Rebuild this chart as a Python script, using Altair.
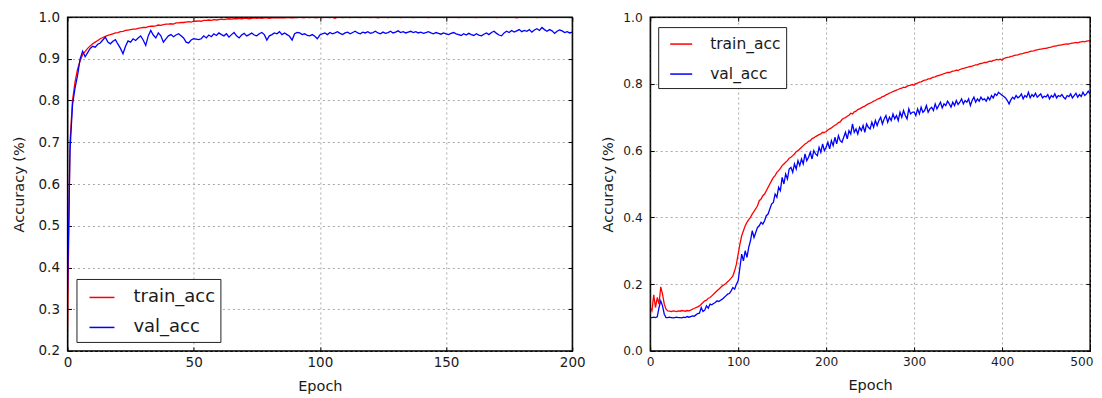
import altair as alt
import pandas as pd

# ---------------- data ----------------
LEFT_EPOCHS = list(range(0, 201))
LEFT_TRAIN = [
    0.250, 0.700, 0.800, 0.845, 0.875, 0.895, 0.910, 0.918, 0.925, 0.931,
    0.936, 0.940, 0.944, 0.948, 0.951, 0.954, 0.956, 0.958, 0.960, 0.962,
    0.963, 0.965, 0.966, 0.968, 0.969, 0.970, 0.971, 0.971, 0.973, 0.974,
    0.975, 0.975, 0.977, 0.978, 0.978, 0.979, 0.981, 0.980, 0.982, 0.983,
    0.983, 0.984, 0.983, 0.986, 0.986, 0.987, 0.987, 0.988, 0.989, 0.988,
    0.990, 0.990, 0.991, 0.990, 0.992, 0.992, 0.993, 0.992, 0.994, 0.993,
    0.994, 0.995, 0.994, 0.995, 0.996, 0.995, 0.996, 0.996, 0.997, 0.996,
    0.997, 0.997, 0.996, 0.997, 0.998, 0.997, 0.998, 0.997, 0.998, 0.998,
    0.997, 0.998, 0.999, 0.998, 0.998, 0.999, 0.998, 0.999, 0.999, 0.998,
    0.999, 0.999, 1.000, 0.999, 0.999, 1.000, 0.999, 1.000, 0.999, 0.999,
    1.000, 0.999, 1.000, 1.000, 0.999, 1.000, 0.997, 1.000, 1.000, 0.999,
    1.000, 1.000, 0.999, 1.000, 1.000, 1.000, 0.999, 1.000, 1.000, 1.000,
    0.999, 1.000, 1.000, 0.998, 1.000, 1.000, 1.000, 0.999, 1.000, 1.000,
    1.000, 1.000, 0.999, 1.000, 1.000, 1.000, 1.000, 0.999, 1.000, 1.000,
    1.000, 1.000, 1.000, 0.999, 1.000, 1.000, 1.000, 1.000, 1.000, 0.999,
    1.000, 1.000, 1.000, 1.000, 1.000, 0.999, 1.000, 1.000, 1.000, 1.000,
    1.000, 1.000, 0.999, 1.000, 1.000, 1.000, 1.000, 1.000, 1.000, 1.000,
    0.999, 1.000, 1.000, 1.000, 1.000, 1.000, 1.000, 1.000, 0.998, 1.000,
    1.000, 1.000, 1.000, 1.000, 1.000, 1.000, 0.999, 1.000, 1.000, 1.000,
    1.000, 1.000, 1.000, 1.000, 1.000, 1.000, 1.000, 1.000, 1.000, 1.000,
    1.000,
]
LEFT_VAL = [
    0.340, 0.680, 0.790, 0.830, 0.860, 0.900, 0.918, 0.905, 0.915, 0.925,
    0.930, 0.928, 0.935, 0.938, 0.945, 0.952, 0.940, 0.936, 0.942, 0.946,
    0.935, 0.925, 0.912, 0.930, 0.943, 0.940, 0.948, 0.944, 0.950, 0.955,
    0.945, 0.932, 0.955, 0.968, 0.957, 0.950, 0.962, 0.955, 0.940, 0.948,
    0.955, 0.958, 0.953, 0.957, 0.960, 0.955, 0.950, 0.940, 0.938, 0.945,
    0.948, 0.947, 0.946, 0.948, 0.955, 0.950, 0.957, 0.953, 0.960, 0.956,
    0.962, 0.958, 0.955, 0.960, 0.952, 0.958, 0.963, 0.955, 0.950, 0.957,
    0.961, 0.955, 0.958, 0.962, 0.957, 0.955, 0.960, 0.963, 0.958, 0.945,
    0.955, 0.958, 0.962, 0.960, 0.965, 0.958, 0.962, 0.958, 0.954, 0.945,
    0.960, 0.963, 0.962, 0.958, 0.960, 0.956, 0.955, 0.958, 0.954, 0.948,
    0.957, 0.960, 0.962, 0.958, 0.963, 0.960, 0.962, 0.965, 0.961, 0.958,
    0.962, 0.964, 0.960, 0.963, 0.966, 0.962, 0.960, 0.964, 0.962, 0.965,
    0.961, 0.963, 0.966, 0.962, 0.960, 0.964, 0.961, 0.963, 0.966, 0.962,
    0.964, 0.967, 0.963, 0.965, 0.962, 0.964, 0.966, 0.963, 0.965, 0.962,
    0.964, 0.961, 0.963, 0.965, 0.962, 0.960, 0.963, 0.961, 0.959, 0.962,
    0.960, 0.958, 0.961, 0.963, 0.960, 0.958, 0.956, 0.960, 0.957, 0.961,
    0.958, 0.956, 0.960, 0.957, 0.955, 0.959, 0.962, 0.958, 0.963, 0.966,
    0.961, 0.957, 0.955, 0.962, 0.966, 0.963, 0.968, 0.964, 0.967, 0.970,
    0.965, 0.968, 0.966, 0.970, 0.964, 0.969, 0.972, 0.968, 0.975, 0.970,
    0.966, 0.970, 0.967, 0.961, 0.966, 0.969, 0.967, 0.963, 0.965, 0.962,
    0.964,
]

RIGHT_EPOCHS = list(range(0, 501, 2))
RIGHT_TRAIN = [
    0.130, 0.120, 0.168, 0.130, 0.160, 0.140, 0.192, 0.170, 0.140, 0.125,
    0.120, 0.119, 0.118, 0.120, 0.119, 0.118, 0.120, 0.119, 0.121, 0.120,
    0.119, 0.121, 0.120, 0.122, 0.125, 0.127, 0.130, 0.132, 0.135, 0.140,
    0.145, 0.150, 0.152, 0.158, 0.160, 0.165, 0.170, 0.175, 0.180, 0.185,
    0.190, 0.195, 0.198, 0.202, 0.207, 0.212, 0.218, 0.225, 0.240, 0.260,
    0.290, 0.320, 0.345, 0.360, 0.375, 0.385, 0.393, 0.400, 0.410, 0.418,
    0.426, 0.435, 0.450, 0.455, 0.465, 0.470, 0.480, 0.490, 0.500, 0.510,
    0.520, 0.525, 0.535, 0.540, 0.547, 0.555, 0.560, 0.565, 0.570, 0.577,
    0.580, 0.585, 0.590, 0.597, 0.600, 0.605, 0.610, 0.615, 0.620, 0.623,
    0.628, 0.630, 0.636, 0.638, 0.642, 0.645, 0.648, 0.650, 0.655, 0.654,
    0.657, 0.662, 0.665, 0.668, 0.672, 0.676, 0.679, 0.684, 0.686, 0.693,
    0.697, 0.699, 0.703, 0.706, 0.712, 0.710, 0.716, 0.718, 0.723, 0.725,
    0.728, 0.731, 0.733, 0.737, 0.740, 0.742, 0.745, 0.748, 0.750, 0.754,
    0.756, 0.758, 0.762, 0.763, 0.767, 0.769, 0.772, 0.774, 0.777, 0.779,
    0.781, 0.783, 0.786, 0.787, 0.790, 0.789, 0.793, 0.795, 0.796, 0.798,
    0.796, 0.801, 0.802, 0.805, 0.806, 0.809, 0.811, 0.812, 0.815, 0.815,
    0.818, 0.820, 0.821, 0.824, 0.825, 0.827, 0.828, 0.831, 0.832, 0.834,
    0.834, 0.836, 0.838, 0.839, 0.841, 0.840, 0.843, 0.845, 0.846, 0.848,
    0.849, 0.851, 0.852, 0.853, 0.855, 0.857, 0.857, 0.860, 0.861, 0.862,
    0.864, 0.864, 0.866, 0.868, 0.867, 0.870, 0.871, 0.873, 0.872, 0.874,
    0.871, 0.876, 0.878, 0.879, 0.880, 0.882, 0.883, 0.885, 0.886, 0.887,
    0.889, 0.890, 0.891, 0.893, 0.894, 0.895, 0.897, 0.898, 0.899, 0.901,
    0.902, 0.903, 0.904, 0.905, 0.906, 0.906, 0.908, 0.909, 0.910, 0.912,
    0.913, 0.914, 0.915, 0.916, 0.917, 0.918, 0.919, 0.920, 0.919, 0.921,
    0.922, 0.923, 0.924, 0.923, 0.925, 0.926, 0.927, 0.926, 0.928, 0.929,
    0.929,
]
RIGHT_VAL = [
    0.100, 0.100, 0.101, 0.100, 0.102, 0.130, 0.150, 0.135, 0.110, 0.100,
    0.100, 0.101, 0.100, 0.099, 0.100, 0.101, 0.100, 0.100, 0.099, 0.101,
    0.100, 0.103, 0.101, 0.103, 0.105, 0.104, 0.108, 0.112, 0.113, 0.130,
    0.118, 0.122, 0.135, 0.128, 0.140, 0.138, 0.142, 0.145, 0.150, 0.148,
    0.152, 0.155, 0.160, 0.165, 0.170, 0.172, 0.180, 0.190, 0.185, 0.200,
    0.210, 0.250, 0.290, 0.270, 0.300, 0.280, 0.310, 0.330, 0.360, 0.340,
    0.355, 0.370, 0.375, 0.385, 0.380, 0.390, 0.405, 0.410, 0.425, 0.440,
    0.445, 0.470, 0.460, 0.490, 0.480, 0.520, 0.500, 0.530, 0.515, 0.545,
    0.550, 0.535, 0.560, 0.545, 0.570, 0.555, 0.575, 0.560, 0.590, 0.570,
    0.580, 0.595, 0.575, 0.600, 0.590, 0.585, 0.610, 0.595, 0.620, 0.600,
    0.610, 0.625, 0.605, 0.630, 0.615, 0.640, 0.620, 0.645, 0.630, 0.625,
    0.640, 0.655, 0.635, 0.660, 0.650, 0.680, 0.655, 0.665, 0.650, 0.670,
    0.660, 0.675, 0.655, 0.680, 0.670, 0.665, 0.685, 0.670, 0.690, 0.675,
    0.690, 0.700, 0.680, 0.695, 0.705, 0.685, 0.700, 0.690, 0.710, 0.695,
    0.705, 0.690, 0.715, 0.700, 0.720, 0.705, 0.695, 0.725, 0.710, 0.715,
    0.716, 0.705, 0.725, 0.710, 0.730, 0.715, 0.720, 0.735, 0.715, 0.725,
    0.730, 0.720, 0.740, 0.725, 0.735, 0.745, 0.728, 0.740, 0.735, 0.748,
    0.740, 0.730, 0.745, 0.735, 0.750, 0.738, 0.745, 0.755, 0.740, 0.750,
    0.745, 0.755, 0.735, 0.750, 0.760, 0.745, 0.755, 0.748, 0.760, 0.752,
    0.755, 0.748, 0.760, 0.752, 0.765, 0.758, 0.770, 0.765, 0.775, 0.770,
    0.766, 0.762, 0.758, 0.750, 0.740, 0.752, 0.760, 0.755, 0.765, 0.758,
    0.762, 0.770, 0.755, 0.765, 0.760, 0.775, 0.758, 0.768, 0.762, 0.772,
    0.760, 0.765, 0.770, 0.758, 0.763, 0.761, 0.768, 0.755, 0.765, 0.760,
    0.770, 0.758, 0.765, 0.762, 0.768, 0.760, 0.755, 0.765, 0.762, 0.770,
    0.758, 0.765, 0.772, 0.760, 0.768, 0.762, 0.775, 0.765, 0.770, 0.778,
    0.770,
]

SERIES = ["train_acc", "val_acc"]
COLORS = ["#ff0000", "#0000ff"]

LEFT_XTICKS = [0, 50, 100, 150, 200]
LEFT_YTICKS = [0.2, 0.3, 0.4, 0.5, 0.6, 0.7, 0.8, 0.9, 1.0]
RIGHT_XTICKS = [0, 100, 200, 300, 400, 500]
RIGHT_YTICKS = [0.0, 0.2, 0.4, 0.6, 0.8, 1.0]

FONT = "DejaVu Sans"
TXT = "#1a1a1a"


def long_df(epochs, train, val):
    return pd.DataFrame({
        "Epoch": list(epochs) + list(epochs),
        "acc": list(train) + list(val),
        "series": [SERIES[0]] * len(train) + [SERIES[1]] * len(val),
    })


def panel(df, xdom, xticks, ydom, yticks, w, h, tick_fs, title_fs, ytpad, last_right, leg):
    xs = alt.Scale(domain=xdom, nice=False, zero=False)
    ys = alt.Scale(domain=ydom, nice=False, zero=False)
    common_axis = dict(
        tickSize=4, offset=-4, tickColor="black", tickWidth=1,
        domain=False, labelFont=FONT, labelFontSize=tick_fs, labelFlush=False,
        labelColor=TXT, titleFont=FONT, titleFontSize=title_fs, titleColor=TXT,
        titleFontWeight="normal",
        grid=True, gridColor="#a8a8a8", gridDash=[2, 3], gridWidth=1,
    )
    x_extra = {}
    if last_right:
        test = f"datum.value == {xdom[1]}"
        x_extra = dict(
            labelAlign={"condition": {"test": test, "value": "right"}, "value": "center"},
            labelOffset={"condition": {"test": test, "value": 3}, "value": 0},
        )
    lines = alt.Chart(df).mark_line(strokeWidth=1.3, clip=True).encode(
        x=alt.X("Epoch:Q", scale=xs,
                axis=alt.Axis(values=xticks, format="d", title="Epoch",
                              labelPadding=5, titlePadding=10,
                              **x_extra, **common_axis)),
        y=alt.Y("acc:Q", scale=ys,
                axis=alt.Axis(values=yticks, format=".1f", title="Accuracy (%)",
                              labelPadding=8, titlePadding=ytpad,
                              **common_axis)),
        color=alt.Color(
            "series:N",
            scale=alt.Scale(domain=SERIES, range=COLORS),
            legend=alt.Legend(
                title=None, orient="none", legendX=leg["x"], legendY=leg["y"],
                symbolType="stroke", symbolSize=leg["sym"] ** 2,
                symbolStrokeWidth=1.5, symbolOffset=leg["symoff"],
                labelFont=FONT, labelFontSize=leg["fs"], labelColor=TXT,
                labelOffset=leg["laboff"], rowPadding=leg["rowpad"],
                padding=leg["pad"], strokeColor="#222222", fillColor="white",
                cornerRadius=0,
            ),
        ),
        order=alt.Order("Epoch:Q"),
    )
    tick_axes = alt.Chart(df).mark_line(opacity=0).encode(
        x=alt.X("Epoch:Q", scale=xs,
                axis=alt.Axis(orient="top", values=xticks, labels=False, title=None,
                              tickSize=4, offset=-4, tickColor="black", domain=False,
                              grid=False)),
        y=alt.Y("acc:Q", scale=ys,
                axis=alt.Axis(orient="right", values=yticks, labels=False, title=None,
                              tickSize=4, offset=-4, tickColor="black", domain=False,
                              grid=False)),
        detail="series:N",
    )
    frame = alt.Chart(pd.DataFrame({"k": [0]})).mark_rect(
        filled=False, stroke="black", strokeWidth=1.2, fillOpacity=0
    ).encode(
        x=alt.value(0), x2=alt.value("width"),
        y=alt.value(0), y2=alt.value("height"),
    )
    return alt.layer(lines, tick_axes, frame).resolve_scale(
        x="independent", y="independent"
    ).properties(width=w, height=h)


left = panel(
    long_df(LEFT_EPOCHS, LEFT_TRAIN, LEFT_VAL), [0, 200], LEFT_XTICKS,
    [0.2, 1.0], LEFT_YTICKS, 505, 334, 13.5, 14.5, 12, False,
    dict(x=9, y=262, sym=25, symoff=7, fs=18, laboff=18, rowpad=7, pad=5),
)
right = panel(
    long_df(RIGHT_EPOCHS, RIGHT_TRAIN, RIGHT_VAL), [0, 500], RIGHT_XTICKS,
    [0.0, 1.0], RIGHT_YTICKS, 440, 334, 12.2, 14.5, 7, True,
    dict(x=8, y=10, sym=22, symoff=6, fs=15.5, laboff=17, rowpad=9, pad=5),
)

chart = alt.hconcat(left, right, spacing=78, bounds="flush").resolve_scale(
    color="independent"
).configure_view(stroke="black", strokeWidth=1).properties(
    padding={"left": 2.5, "top": 1, "right": 0, "bottom": 0},
    background="white",
)

chart.save("out.html", embed_options={"renderer": "svg", "actions": False})
